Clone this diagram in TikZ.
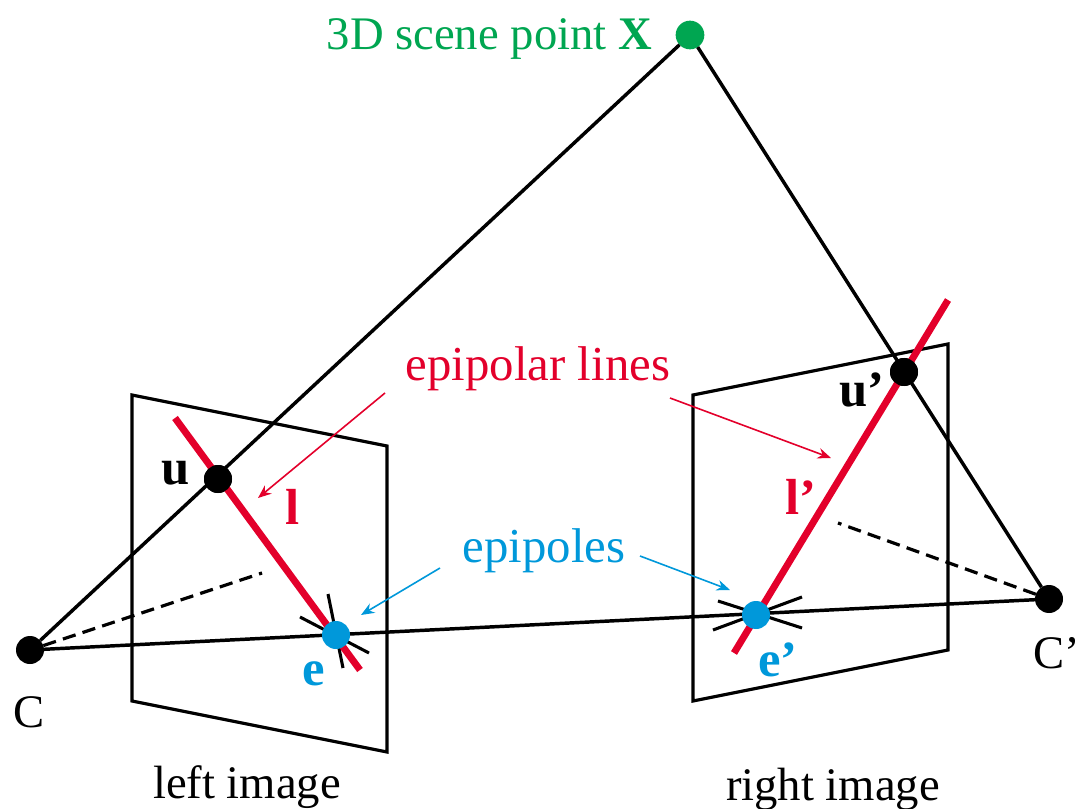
\documentclass[tikz,border=0pt]{standalone}
\usepackage{fontspec}
\setmainfont{Liberation Serif}
\usetikzlibrary{arrows.meta}
\definecolor{scenegreen}{RGB}{0,166,81}
\definecolor{epired}{RGB}{227,0,43}
\definecolor{epiblue}{RGB}{0,152,218}

\begin{document}
\begin{tikzpicture}[
  x=.75pt, y=-.75pt,
  every node/.style={inner sep=0pt, outer sep=0pt},
  plane/.style={draw=black, line width=2.4pt, line join=miter},
  ray/.style={draw=black, line width=2.6pt},
  hidden/.style={draw=black, line width=2.4pt, dash pattern=on 10pt off 5.5pt},
  spoke/.style={draw=black, line width=2.3pt},
  epiline/.style={draw=epired, line width=5.2pt},
  point/.style={circle, fill=black, minimum size=21pt},
  epipole/.style={circle, fill=epiblue, minimum size=21pt},
  scenepoint/.style={circle, fill=scenegreen, minimum size=21pt},
  redarrow/.style={-{Stealth[length=10pt,width=8pt]}, draw=epired, line width=1.2pt},
  bluearrow/.style={-{Stealth[length=10pt,width=8pt]}, draw=epiblue, line width=1.2pt},
  label/.style={font=\fontsize{35}{38}\selectfont, anchor=center},
  widelabel/.style={font=\fontsize{36.6}{38}\selectfont, anchor=center},
  bold/.style={font=\fontsize{38}{38}\selectfont\bfseries, anchor=center}
]
\useasboundingbox (0,0) rectangle (1082,809);

% image planes
\coordinate (la) at (132,395);
\coordinate (lb) at (387,446);
\coordinate (lc) at (387,752);
\coordinate (ld) at (132,701);
\coordinate (ra) at (693,395);
\coordinate (rb) at (948,344);
\coordinate (rc) at (948,650);
\coordinate (rd) at (693,701);
\draw[plane] (la) -- (lb) -- (lc) -- (ld) -- cycle;
\draw[plane] (ra) -- (rb) -- (rc) -- (rd) -- cycle;

% free ends
\coordinate (lstart) at (175,418);
\coordinate (lend) at (360,670);
\coordinate (rstart) at (948,300);
\coordinate (rend) at (734,653);
\coordinate (ldash) at (262,573);
\coordinate (rdash) at (838,523);

% points
\node[scenepoint, minimum size=21.5pt] (X) at (690,35) {};
\node[point] (C) at (30,650) {};
\node[point] (Cp) at (1049,599) {};
\node[point] (u) at (218,479) {};
\node[point] (up) at (904,372) {};

% spokes at the epipoles
\coordinate (e) at (336,635);
\coordinate (ep) at (756,615);
\draw[spoke] (328,594) -- (343,668);
\draw[spoke] (300,617) -- (369,653);
\draw[spoke] (718,601) -- (802,628);
\draw[spoke] (713,630) -- (802,597);

\draw[ray] (C) -- (X);
\draw[ray] (X) -- (Cp);
\draw[ray] (C) -- (Cp);
\draw[hidden] (C) -- (ldash);
\draw[hidden] (Cp) -- (rdash);
\draw[epiline] (lstart) -- (lend);
\draw[epiline] (rstart) -- (rend);

\node[point] at (u) {};
\node[point] at (up) {};
\node[epipole] (el) at (e) {};
\node[epipole] (er) at (ep) {};

% labels
\node[label, anchor=east, text=scenegreen] (Xlabel) at (652,39) {3D scene point \textbf{X}};
\node[widelabel, text=epired] (epilines) at (538,369) {epipolar lines};
\node[widelabel, text=epiblue] (epipoles) at (544,551) {epipoles};
\node[bold, text=epired] (llabel) at (293,507) {l};
\node[bold, text=epired] (lplabel) at (801,497) {l’};
\node[bold, text=black] (ulabel) at (176,473) {u};
\node[bold, text=black] (uplabel) at (862,390) {u’};
\node[bold, text=epiblue] (elabel) at (314,674) {e};
\node[bold, text=epiblue] (eplabel) at (778,660) {e’};
\node[label] (Clabel) at (29,712) {C};
\node[label] (Cplabel) at (1057,653) {C’};
\node[label] (leftimage) at (247,787) {left image};
\node[label] (rightimage) at (833,789) {right image};

% arrows
\coordinate (a1) at (385,393);
\coordinate (a2) at (258,498);
\coordinate (a3) at (670,398);
\coordinate (a4) at (831,458);
\coordinate (b1) at (440,568);
\coordinate (b2) at (361,615);
\coordinate (b3) at (640,556);
\coordinate (b4) at (730,590);
\draw[redarrow] (a1) -- (a2);
\draw[redarrow] (a3) -- (a4);
\draw[bluearrow] (b1) -- (b2);
\draw[bluearrow] (b3) -- (b4);
\end{tikzpicture}
\end{document}
